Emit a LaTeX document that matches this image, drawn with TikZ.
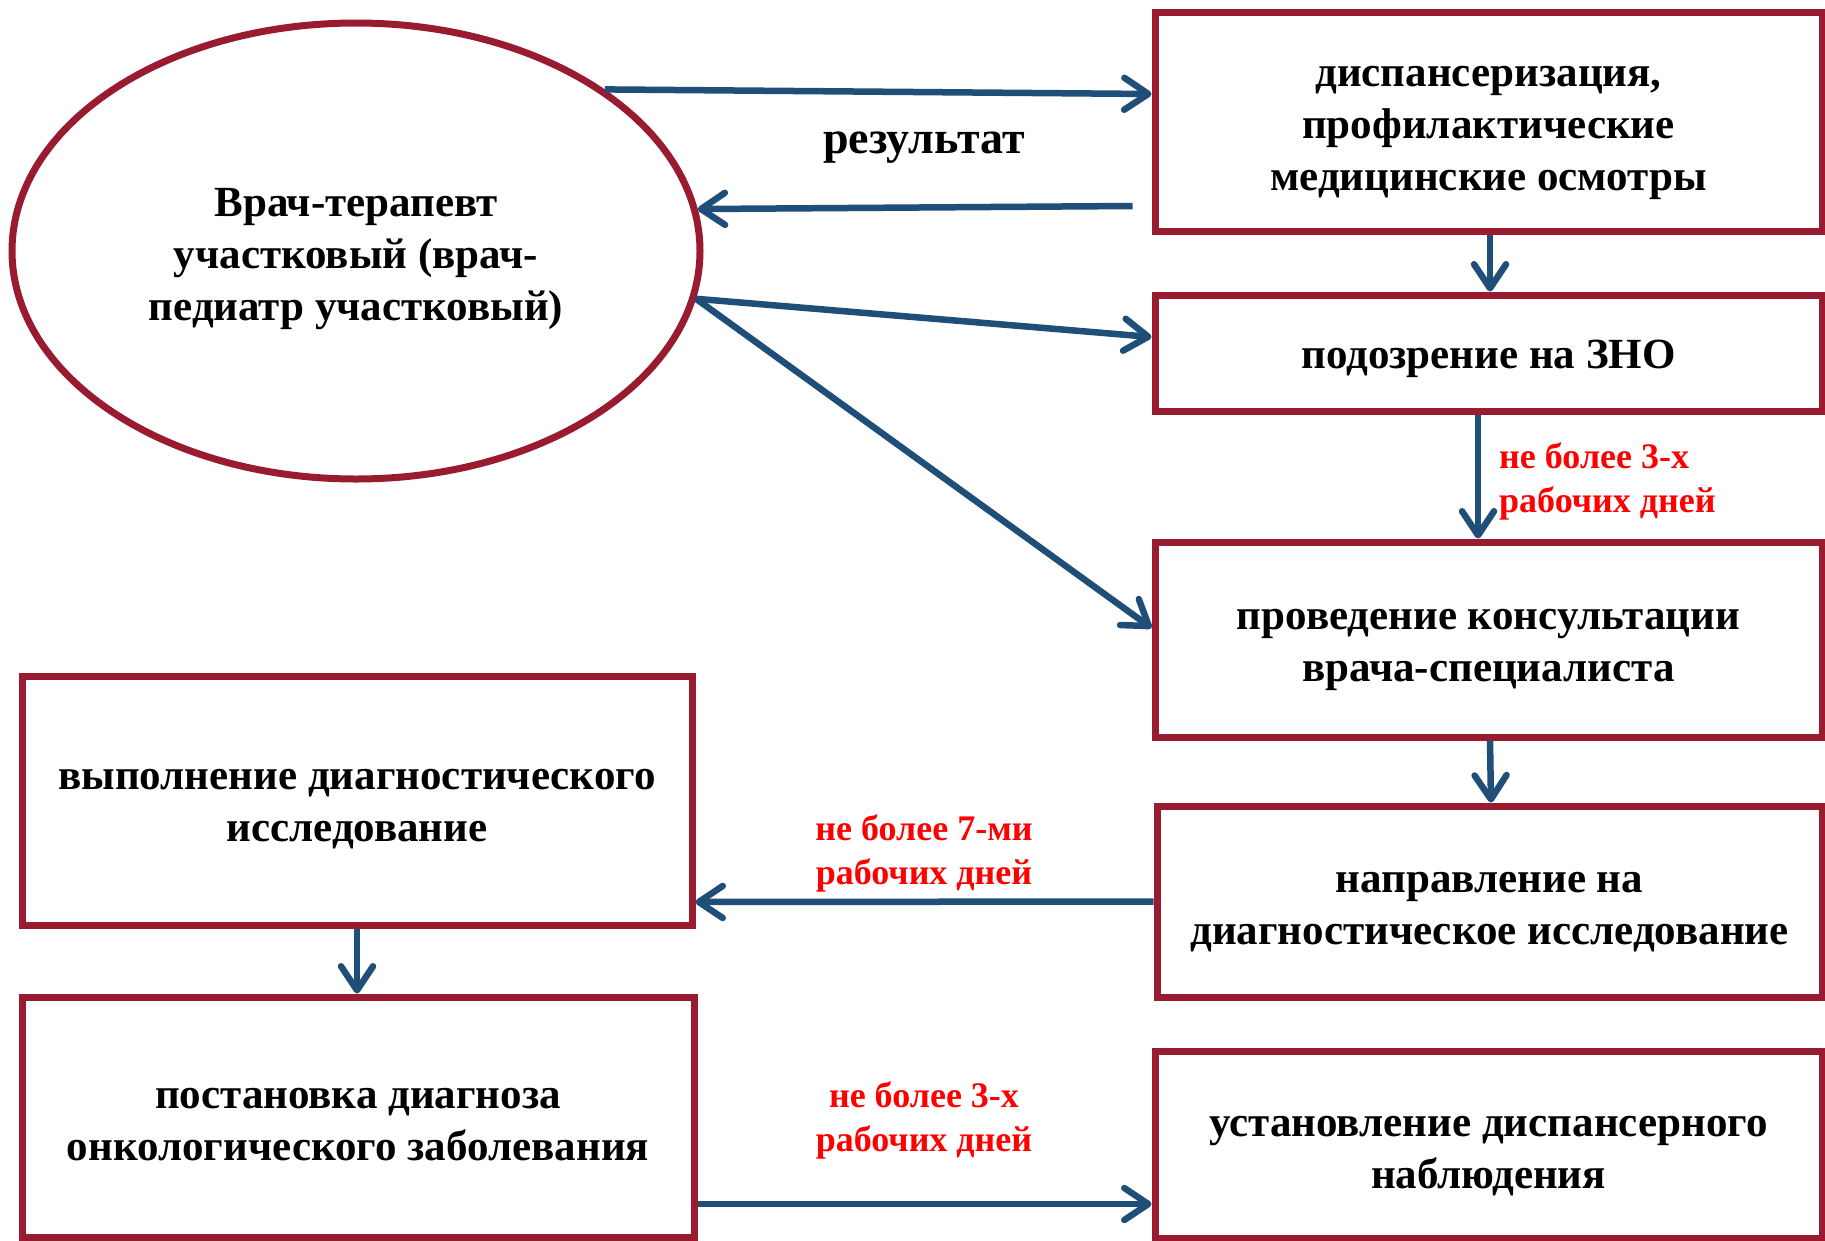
\documentclass[tikz,border=0pt]{standalone}
\usepackage{fontspec}
\setmainfont{Liberation Serif}
\usetikzlibrary{shapes.geometric,arrows.meta,calc}
\definecolor{bord}{RGB}{152,27,48}
\definecolor{arrblue}{RGB}{31,78,121}
\definecolor{lbred}{RGB}{255,0,0}
\tikzset{
  box/.style={draw=bord, line width=7pt, rectangle, inner sep=0pt},
  oval/.style={draw=bord, line width=7pt, ellipse, inner sep=0pt},
  txt/.style={inner sep=0pt, align=center, font=\bfseries\fontsize{43}{52}\selectfont},
  arr/.style={draw=arrblue, line width=6.5pt, -{Straight Barb[length=24pt,width=32pt,round]}},
  redlbl/.style={text=lbred, font=\bfseries\fontsize{36}{44}\selectfont, inner sep=0pt},
}
\begin{document}
\begin{tikzpicture}[x=1pt,y=-1pt]
\useasboundingbox[fill=white] (0,0) rectangle (1825,1240);
\node[oval, minimum width=688pt, minimum height=456pt] (e) at (356,251) {};
\node[box, minimum width=667pt, minimum height=219pt] (b1) at (1488.5,121.5) {};
\node[box, minimum width=667pt, minimum height=116pt] (b2) at (1488.5,353) {};
\node[box, minimum width=667pt, minimum height=195pt] (b3) at (1488.5,639.5) {};
\node[box, minimum width=665pt, minimum height=191pt] (b4) at (1489.5,901.5) {};
\node[box, minimum width=667pt, minimum height=187pt] (b5) at (1488.5,1144.5) {};
\node[box, minimum width=670pt, minimum height=249pt] (l1) at (357,800.5) {};
\node[box, minimum width=672pt, minimum height=240pt] (l2) at (358,1117) {};
\node[txt] (et) at ([yshift=-8pt]e.center) {Врач-терапевт\\участковый (врач-\\педиатр участковый)};
\node[txt] (b1t) at ([yshift=-11pt]b1.center) {диспансеризация,\\профилактические\\медицинские осмотры};
\node[txt] (b2t) at ([yshift=-6pt]b2.center) {подозрение на ЗНО};
\node[txt] (b3t) at ([yshift=-10pt]b3.center) {проведение консультации\\врача-специалиста};
\node[txt] (b4t) at ([yshift=-11pt]b4.center) {направление на\\диагностическое исследование};
\node[txt] (b5t) at ([yshift=-12pt]b5.center) {установление диспансерного\\наблюдения};
\node[txt] (l1t) at ([yshift=-9pt]l1.center) {выполнение диагностического\\исследование};
\node[txt] (l2t) at ([yshift=-8pt]l2.center) {постановка диагноза\\онкологического заболевания};
\node[font=\bfseries\fontsize{46}{52}\selectfont, inner sep=0pt] (res) at (924,148) {результат};
\node[redlbl, anchor=west, align=left] (t1) at (1499,481) {не более 3-х\\рабочих дней};
\node[redlbl, align=center] (t2) at (924,853) {не более 7-ми\\рабочих дней};
\node[redlbl, align=center] (t3) at (924,1120) {не более 3-х\\рабочих дней};
\draw[arr] (e.33.5) -- ([yshift=27.5pt]b1.west);
\draw[arr] ([xshift=-19pt,yshift=-84.5pt]b1.west) -- (e.7.8);
\draw[arr] (e.-8) -- ([yshift=16pt]b2.west);
\draw[arr] (e.-8) -- ([yshift=11.5pt]b3.west);
\draw[arr] ([xshift=1.5pt]b1.south) -- ([xshift=1.5pt]b2.north);
\draw[arr] ([xshift=-10.5pt]b2.south) -- ([xshift=-10.5pt]b3.north);
\draw[arr] ([xshift=1.5pt]b3.south) -- ([xshift=1.5pt]b4.north);
\draw[arr] (b4.west) -- ([yshift=-101.5pt]l1.east);
\draw[arr] (l1.south) -- (l1.south |- l2.north);
\draw[arr] ([yshift=-87pt]l2.east) -- ([yshift=-59.5pt]b5.west);
\end{tikzpicture}
\end{document}
